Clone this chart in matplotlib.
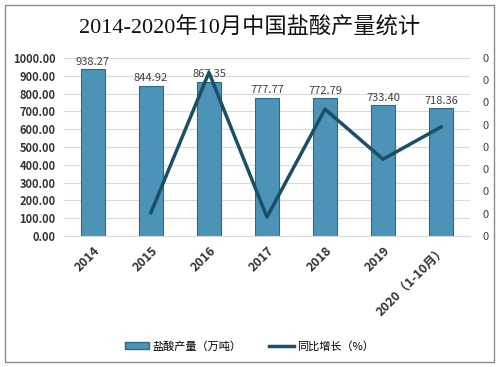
import numpy as np
import matplotlib
matplotlib.use('Agg')
import matplotlib.pyplot as plt
from matplotlib.patches import Patch, Rectangle
from matplotlib.lines import Line2D
from matplotlib.ticker import FuncFormatter

plt.rcParams['font.family'] = ['Noto Sans CJK SC', 'DejaVu Sans']

# data
years = ['2014', '2015', '2016', '2017', '2018', '2019', '2020（1-10月）']
output = [938.27, 844.92, 867.35, 777.77, 772.79, 733.40, 718.36]
growth_years = years[1:]
growth = [-0.099, 0.027, -0.103, -0.006, -0.051, -0.022]

bar_color = '#4d93b8'
line_color = '#1b4f66'

fig = plt.figure(figsize=(4.99, 3.67), dpi=100)
fig.patches.append(Rectangle((0.01, 0.013), 0.98, 0.974, transform=fig.transFigure,
                             fill=False, edgecolor='#8c8c8c', linewidth=1))

ax = fig.add_axes([0.128, 0.357, 0.814, 0.485])
x = np.arange(len(years))
ax.bar(x, output, width=0.42, color=bar_color, edgecolor='#2f6882', linewidth=0.8, zorder=2)
for xi, v in zip(x, output):
    ax.text(xi, v + 12, f'{v:.2f}', ha='center', va='bottom', fontsize=8, color='#404040', zorder=4)

ax.set_ylim(0, 1000)
ax.set_xlim(-0.5, len(years) - 0.5)
ax.set_yticks(np.arange(0, 1001, 100))
ax.yaxis.set_major_formatter(FuncFormatter(lambda v, p: f'{v:.2f}'))
ax.grid(axis='y', color='#d9d9d9', linewidth=0.8, zorder=0)
for s in ['top', 'right', 'left']:
    ax.spines[s].set_visible(False)
ax.spines['bottom'].set_color('#d9d9d9')
ax.tick_params(axis='both', length=0)
ax.tick_params(axis='y', labelsize=8, pad=6)
for lab in ax.get_yticklabels():
    lab.set_fontweight('bold')
    lab.set_color('#333333')
ax.set_xticks(x)
ax.set_xticklabels(years, rotation=45, ha='right', rotation_mode='anchor',
                   fontsize=9, fontweight='bold', color='#333333')
ax.tick_params(axis='x', pad=6)

ax2 = ax.twinx()
ax2.plot(x[1:], growth, color=line_color, linewidth=2.5, zorder=3)
ax2.set_ylim(-0.12, 0.04)
ax2.set_yticks(np.arange(-0.12, 0.041, 0.02))
ax2.yaxis.set_major_formatter(FuncFormatter(lambda v, p: '0'))
ax2.tick_params(axis='y', length=0, labelsize=8, labelcolor='#404040', pad=9)
for s in ax2.spines.values():
    s.set_visible(False)

fig.text(0.5, 0.923, '2014-2020年10月中国盐酸产量统计', ha='center', va='center',
         fontsize=16, family=['Liberation Serif', 'Noto Sans CJK SC'], color='#111111')

handles = [Patch(facecolor=bar_color, edgecolor='#2f6882', label='盐酸产量（万吨）'),
           Line2D([0], [0], color=line_color, linewidth=2.5, label='同比增长（%）')]
fig.legend(handles=handles, loc='center', bbox_to_anchor=(0.5, 0.057), ncol=2,
           frameon=False, fontsize=8, handlelength=2.2, handleheight=0.6,
           columnspacing=2.5, handletextpad=0.3)

fig.savefig('out.png', dpi=100)
